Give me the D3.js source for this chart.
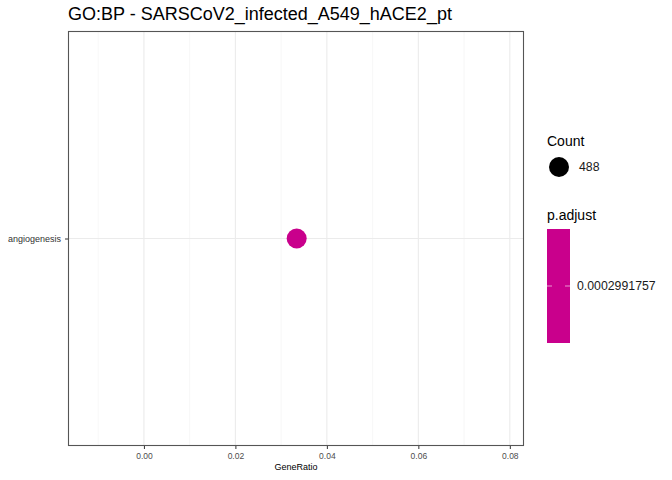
<!DOCTYPE html>
<html><head><meta charset="utf-8">
<script src="https://cdn.jsdelivr.net/npm/d3@7"></script>
<style>body{margin:0;background:#fff}svg{display:block;font-family:"Liberation Sans",Arial,sans-serif}</style>
</head><body><svg id="c" width="672" height="480"></svg>
<script>
const categories = ["angiogenesis"];
const geneRatio = [0.0334];
const counts = [488];
const pAdjust = [0.0002991757];
const xTicks = [0.00, 0.02, 0.04, 0.06, 0.08];
const xMinor = [-0.01, 0.01, 0.03, 0.05, 0.07];
const title = "GO:BP - SARSCoV2_infected_A549_hACE2_pt";
const pointColor = "#c9008c";

const svg = d3.select("#c");
const L = 68, R = 524, T = 31, B = 446;
const x = d3.scaleLinear().domain([-0.0166, 0.0831]).range([L, R]);
const y = d3.scalePoint().domain(categories).range([B, T]).padding(0.5);
const size = d3.scaleSqrt().domain([0, 488]).range([0, 10]);

svg.append("rect").attr("width",672).attr("height",480).attr("fill","#fff");
svg.append("text").attr("x",L).attr("y",20).attr("font-size",18).attr("fill","#000").text(title);

const g = svg.append("g");
g.selectAll(".minor").data(xMinor).join("line")
  .attr("x1",d=>x(d)).attr("x2",d=>x(d)).attr("y1",T).attr("y2",B)
  .attr("stroke","#f2f2f2").attr("stroke-width",0.6);
g.selectAll(".major").data(xTicks).join("line")
  .attr("x1",d=>x(d)).attr("x2",d=>x(d)).attr("y1",T).attr("y2",B)
  .attr("stroke","#ebebeb").attr("stroke-width",1.1);
g.selectAll(".hy").data(categories).join("line")
  .attr("x1",L).attr("x2",R).attr("y1",d=>y(d)).attr("y2",d=>y(d))
  .attr("stroke","#ebebeb").attr("stroke-width",1.1);

g.selectAll(".pt").data(categories).join("circle")
  .attr("cx",(d,i)=>x(geneRatio[i])).attr("cy",d=>y(d))
  .attr("r",(d,i)=>size(counts[i])).attr("fill",pointColor);

svg.append("rect").attr("x",L+0.5).attr("y",T+0.5).attr("width",R-L-1).attr("height",B-T-1)
  .attr("fill","none").attr("stroke","#555").attr("stroke-width",1.1);

const xAxis = d3.axisBottom(x).tickValues(xTicks).tickFormat(d3.format(".2f")).tickSize(3).tickPadding(4);
const xa = svg.append("g").attr("transform",`translate(0,${B})`).call(xAxis);
xa.select(".domain").remove();
xa.selectAll("line").attr("stroke","#333");
xa.selectAll("text").attr("font-size",8.5).attr("fill","#4d4d4d").attr("font-family","Liberation Sans, Arial, sans-serif");

const yAxis = d3.axisLeft(y).tickSize(3).tickPadding(4);
const ya = svg.append("g").attr("transform",`translate(${L},0)`).call(yAxis);
ya.select(".domain").remove();
ya.selectAll("line").attr("stroke","#333");
ya.selectAll("text").attr("font-size",9).attr("fill","#333").attr("font-family","Liberation Sans, Arial, sans-serif");

svg.append("text").attr("x",(L+R)/2).attr("y",470).attr("text-anchor","middle")
  .attr("font-size",9).attr("fill","#000").text("GeneRatio");

// legends
svg.append("text").attr("x",547).attr("y",146).attr("font-size",14).text("Count");
svg.append("circle").attr("cx",559).attr("cy",167).attr("r",size(counts[0])).attr("fill","#000");
svg.append("text").attr("x",579).attr("y",171).attr("font-size",12.3).attr("fill","#1a1a1a").text(counts[0]);

svg.append("text").attr("x",547).attr("y",220).attr("font-size",14).text("p.adjust");
const cb = d3.scaleLinear().domain([0,1]).range([343,229]);
svg.append("rect").attr("x",547).attr("y",cb(1)).attr("width",23).attr("height",cb(0)-cb(1)).attr("fill",pointColor);
const ty = 286;
svg.append("line").attr("x1",547).attr("x2",552).attr("y1",ty).attr("y2",ty).attr("stroke","#fff").attr("stroke-width",0.6);
svg.append("line").attr("x1",565).attr("x2",570).attr("y1",ty).attr("y2",ty).attr("stroke","#fff").attr("stroke-width",0.6);
svg.append("text").attr("x",577).attr("y",ty+4).attr("font-size",12.3).attr("fill","#1a1a1a").text(pAdjust[0].toFixed(10));
</script></body></html>
